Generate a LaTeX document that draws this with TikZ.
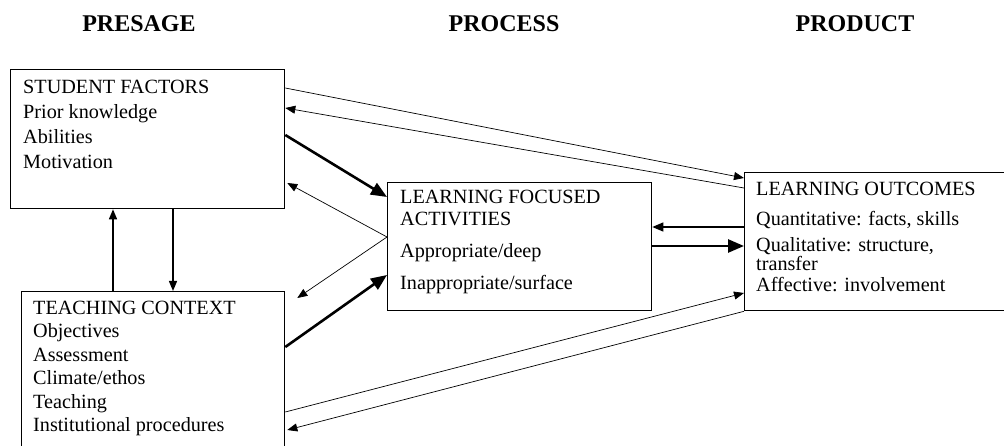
\documentclass[tikz,border=0pt]{standalone}
\usepackage{fontspec}
\setmainfont{Liberation Serif}
\usetikzlibrary{arrows.meta,positioning}

\begin{document}
\begin{tikzpicture}[
  x=1pt, y=-1pt,
  head/.style={font=\fontsize{24}{27}\selectfont\bfseries, anchor=base, inner sep=0},
  box/.style={draw, line width=1.3pt, anchor=north west, inner sep=0},
  boxtext/.style={anchor=north west, inner sep=0, align=left, font=\fontsize{20.2}{25}\selectfont},
  thin/.style={-{Triangle[length=10pt,width=8pt]}, line width=0.7pt},
  thick/.style={-{Triangle[length=16pt,width=13pt]}, line width=2.6pt},
  vflow/.style={-{Triangle[length=10pt,width=8pt]}, line width=1.4pt},
  back/.style={-{Triangle[length=11pt,width=9pt]}, line width=1.3pt},
]
\clip (0,0) rectangle (1004,446);

% Column headings
\node[head] (presage) at (139,32) {PRESAGE};
\node[head] (process) at (504,32) {PROCESS};
\node[head] (product) at (855,32) {PRODUCT};

% Boxes
\node[box, minimum width=274pt, minimum height=139pt] (student) at (10,69) {};
\node[box, minimum width=263pt, minimum height=180pt] (teach) at (21,291) {};
\node[box, minimum width=264pt, minimum height=128pt] (lfa) at (387,182) {};
\node[box, minimum width=270pt, minimum height=138pt] (outcome) at (744,172) {};

% Box contents
\node[boxtext] (studenttxt) at (23,79.5) {STUDENT FACTORS\\Prior knowledge\\Abilities\\Motivation};
\node[boxtext, font=\fontsize{20.2}{23.5}\selectfont] (teachtxt) at (33,300.5)
  {TEACHING CONTEXT\\Objectives\\Assessment\\Climate/ethos\\Teaching\\Institutional procedures};
\node[boxtext, font=\fontsize{20.2}{22.3}\selectfont] (lfatxt) at (400,189.5)
  {LEARNING FOCUSED\\ACTIVITIES\\[9.5pt]Appropriate/deep\\[10.5pt]Inappropriate/surface};
\node[boxtext] (outcometxt) at (756,181.5)
  {LEARNING OUTCOMES\\[5pt]Quantitative: facts, skills\\[1.7pt]Qualitative: structure,\\[-6pt]transfer\\[-4pt]Affective: involvement};

% Presage links
\draw[vflow] ([xshift=92pt]teach.north west) -- ([xshift=103pt]student.south west);
\draw[vflow] ([xshift=163pt]student.south west) -- ([xshift=152pt]teach.north west);

% Student factors
\draw[thin] ([yshift=-19pt]student.north east) -- ([yshift=-6pt]outcome.north west);
\draw[thin] ([yshift=-16pt]outcome.north west) -- ([yshift=-39pt]student.north east);
\draw[thick] ([yshift=-66pt]student.north east) -- ([yshift=-15pt]lfa.north west);
\draw[thin] ([yshift=-55pt]lfa.north west) -- ([xshift=2pt,yshift=-114pt]student.north east);

% Teaching context
\draw[thin] ([yshift=-55pt]lfa.north west) -- ([xshift=12pt,yshift=-7pt]teach.north east);
\draw[thick] ([yshift=-56pt]teach.north east) -- ([yshift=-93pt]lfa.north west);
\draw[thin] ([yshift=-121pt]teach.north east) -- ([yshift=-121pt]outcome.north west);
\draw[thin] (outcome.south west) -- ([xshift=2pt,yshift=-139pt]teach.north east);

% Process to product
\draw[back] ([yshift=-55pt]outcome.north west) -- ([yshift=-45pt]lfa.north east);
\draw[thick] ([yshift=-64pt]lfa.north east) -- ([yshift=-74pt]outcome.north west);

\end{tikzpicture}
\end{document}
